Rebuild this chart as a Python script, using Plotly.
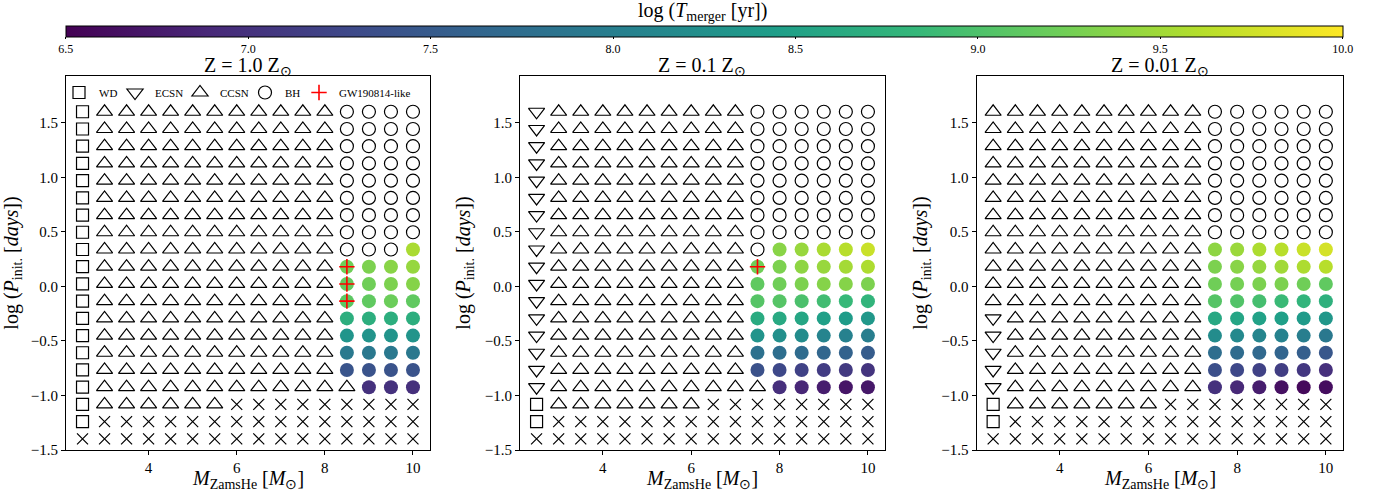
import plotly.graph_objects as go

# ---------------- data ----------------
M_ZAMS_HE = [2.5, 3.0, 3.5, 4.0, 4.5, 5.0, 5.5, 6.0, 6.5, 7.0, 7.5, 8.0, 8.5, 9.0, 9.5, 10.0]
# log10 initial period, listed top row to bottom row
LOG_P_INIT = [1.602, 1.444, 1.286, 1.128, 0.970, 0.812, 0.654, 0.497, 0.339, 0.181,
              0.023, -0.135, -0.293, -0.451, -0.608, -0.766, -0.924, -1.082, -1.240, -1.398]

PANEL_TITLES = ["Z = 1.0 Z<sub>⊙</sub>", "Z = 0.1 Z<sub>⊙</sub>", "Z = 0.01 Z<sub>⊙</sub>"]
X_TITLE = "<i>M</i><sub>ZamsHe</sub> [<i>M</i><sub>⊙</sub>]"
Y_TITLE = "log (<i>P</i><sub>init.</sub> [<i>days</i>])"
CB_TITLE = "log (<i>T</i><sub>merger</sub> [yr])"

# outcome codes: W=WD, E=ECSN, C=CCSN, B=BH, X=failed/no run, M=merging BH (coloured), G=merging + GW190814-like
GRID_Z1 = [
    "WCCCCCCCCCCCBBBB", "WCCCCCCCCCCCBBBB", "WCCCCCCCCCCCBBBB", "WCCCCCCCCCCCBBBB",
    "WCCCCCCCCCCCBBBB", "WCCCCCCCCCCCBBBB", "WCCCCCCCCCCCBBBB", "WCCCCCCCCCCCBBBB",
    "WCCCCCCCCCCCBBBM", "WCCCCCCCCCCCGMMM", "WCCCCCCCCCCCGMMM", "WCCCCCCCCCCCGMMM",
    "WCCCCCCCCCCCMMMM", "WCCCCCCCCCCCMMMM", "WCCCCCCCCCCCMMMM", "WCCCCCCCCCCCMMMM",
    "WCCCCCCCCCCCCMMM", "WCCCCCCXXXXXXXXX", "WXXXXXXXXXXXXXXX", "XXXXXXXXXXXXXXXX",
]
TMERGE_Z1 = [
    [], [], [], [], [], [], [], [],
    [9.55],
    [9.23, 9.30, 9.37, 9.44],
    [9.15, 9.23, 9.30, 9.35],
    [9.10, 9.13, 9.20, 9.13],
    [8.70, 8.70, 8.70, 8.70],
    [8.32, 8.30, 8.30, 8.30],
    [7.92, 7.90, 7.90, 7.90],
    [7.42, 7.40, 7.40, 7.40],
    [7.00, 7.00, 6.98],
    [], [], [],
]

GRID_Z01 = [
    "ECCCCCCCCCBBBBBB", "ECCCCCCCCCBBBBBB", "ECCCCCCCCCBBBBBB", "ECCCCCCCCCBBBBBB",
    "ECCCCCCCCCBBBBBB", "ECCCCCCCCCBBBBBB", "ECCCCCCCCCBBBBBB", "ECCCCCCCCCBBBBBB",
    "ECCCCCCCCCBMMMMM", "ECCCCCCCCCGMMMMM", "ECCCCCCCCCMMMMMM", "ECCCCCCCCCMMMMMM",
    "ECCCCCCCCCMMMMMM", "ECCCCCCCCCMMMMMM", "ECCCCCCCCCMMMMMM", "ECCCCCCCCCMMMMMM",
    "ECCCCCCCCCCMMMMM", "WCCCCCCCXXXXXXXX", "WXXXXXXXXXXXXXXX", "XXXXXXXXXXXXXXXX",
]
TMERGE_Z01 = [
    [], [], [], [], [], [], [], [],
    [9.37, 9.45, 9.55, 9.62, 9.72],
    [9.23, 9.30, 9.40, 9.45, 9.52, 9.57],
    [9.13, 9.23, 9.30, 9.35, 9.35, 9.30],
    [9.06, 9.06, 8.99, 8.92, 8.85, 8.78],
    [8.64, 8.62, 8.57, 8.48, 8.42, 8.36],
    [8.30, 8.25, 8.20, 8.08, 8.04, 8.00],
    [7.80, 7.76, 7.73, 7.65, 7.60, 7.52],
    [7.38, 7.27, 7.20, 7.13, 7.10, 7.03],
    [6.97, 6.88, 6.78, 6.70, 6.73],
    [], [], [],
]

GRID_Z001 = [
    "CCCCCCCCCCBBBBBB", "CCCCCCCCCCBBBBBB", "CCCCCCCCCCBBBBBB", "CCCCCCCCCCBBBBBB",
    "CCCCCCCCCCBBBBBB", "CCCCCCCCCCBBBBBB", "CCCCCCCCCCBBBBBB", "CCCCCCCCCCBBBBBB",
    "CCCCCCCCCCMMMMMM", "CCCCCCCCCCMMMMMM", "CCCCCCCCCCMMMMMM", "CCCCCCCCCCMMMMMM",
    "ECCCCCCCCCMMMMMM", "ECCCCCCCCCMMMMMM", "ECCCCCCCCCMMMMMM", "ECCCCCCCCCMMMMMM",
    "ECCCCCCCCCMMMMMM", "WCCCCCCCXXXXXXXX", "WXXXXXXXXXXXXXXX", "XXXXXXXXXXXXXXXX",
]
TMERGE_Z001 = [
    [], [], [], [], [], [], [], [],
    [9.40, 9.47, 9.57, 9.63, 9.72, 9.78],
    [9.30, 9.37, 9.44, 9.50, 9.57, 9.62],
    [9.23, 9.26, 9.30, 9.30, 9.23, 9.13],
    [9.06, 9.03, 8.95, 8.87, 8.78, 8.73],
    [8.60, 8.55, 8.50, 8.47, 8.40, 8.35],
    [8.20, 8.15, 8.10, 8.05, 8.00, 7.90],
    [7.75, 7.73, 7.68, 7.63, 7.55, 7.45],
    [7.35, 7.27, 7.20, 7.15, 7.07, 6.98],
    [7.00, 6.90, 6.78, 6.65, 6.58, 6.62],
    [], [], [],
]

GRIDS = [GRID_Z1, GRID_Z01, GRID_Z001]
TMERGES = [TMERGE_Z1, TMERGE_Z01, TMERGE_Z001]

CB_TICKS = [6.5, 7.0, 7.5, 8.0, 8.5, 9.0, 9.5, 10.0]
X_TICKS = [4, 6, 8, 10]
Y_TICKS = [-1.5, -1.0, -0.5, 0.0, 0.5, 1.0, 1.5]

# ---------------- layout geometry ----------------
W, H = 1373, 498
X_DOMAINS = [(66 / W, 429.5 / W), (520 / W, 884.5 / W), (976.5 / W, 1342.5 / W)]
Y_DOMAIN = (1 - 450 / H, 1 - 76 / H)
CB_LEFT, CB_RIGHT = 66, 1342.5
LEGEND_X = {"WD": 59, "ECSN": 115, "CCSN": 180, "BH": 245, "GW190814-like": 299}
LEGEND_IDS = {"WD": "legend", "ECSN": "legend2", "CCSN": "legend3", "BH": "legend4", "GW190814-like": "legend5"}
FONT = "Liberation Serif"

fig = go.Figure()

def collect(panel, code):
    xs, ys = [], []
    for r, row in enumerate(GRIDS[panel]):
        for c, ch in enumerate(row):
            if ch in code:
                xs.append(M_ZAMS_HE[c])
                ys.append(LOG_P_INIT[r])
    return xs, ys

def collect_merge(panel):
    xs, ys, vs = [], [], []
    for r, row in enumerate(GRIDS[panel]):
        k = 0
        for c, ch in enumerate(row):
            if ch in "MG":
                xs.append(M_ZAMS_HE[c])
                ys.append(LOG_P_INIT[r])
                vs.append(TMERGES[panel][r][k])
                k += 1
    return xs, ys, vs

STYLES = [
    ("W", "WD", dict(symbol="square-open", size=12, color="black", line=dict(width=1.2, color="black"))),
    ("E", "ECSN", dict(symbol="triangle-down-open", size=14, color="black", line=dict(width=1.2, color="black"))),
    ("C", "CCSN", dict(symbol="triangle-up-open", size=14, color="black", line=dict(width=1.2, color="black"))),
    ("B", "BH", dict(symbol="circle-open", size=13, color="black", line=dict(width=1.2, color="black"))),
]

def ax(i, kind):
    return kind if i == 0 else f"{kind}{i + 1}"

# filled merging circles first (under the rest)
for p in range(3):
    xs, ys, vs = collect_merge(p)
    fig.add_trace(go.Scatter(
        x=xs, y=ys, mode="markers", showlegend=False,
        marker=dict(symbol="circle", size=14, color=vs, coloraxis="coloraxis", line=dict(width=0)),
        xaxis=ax(p, "x"), yaxis=ax(p, "y"),
    ))

for code, name, mk in STYLES:
    shown = False
    for p in range(3):
        xs, ys = collect(p, code)
        if not xs:
            continue
        fig.add_trace(go.Scatter(
            x=xs, y=ys, mode="markers", name=name, legendgroup=name,
            legend=LEGEND_IDS[name], showlegend=not shown, marker=mk,
            xaxis=ax(p, "x"), yaxis=ax(p, "y"),
        ))
        shown = True

for p in range(3):
    xs, ys = collect(p, "X")
    fig.add_trace(go.Scatter(
        x=xs, y=ys, mode="markers", showlegend=False,
        marker=dict(symbol="x-thin-open", size=11, color="black", line=dict(width=1.2, color="black")),
        xaxis=ax(p, "x"), yaxis=ax(p, "y"),
    ))

shown = False
for p in range(3):
    xs, ys = collect(p, "G")
    if not xs:
        continue
    fig.add_trace(go.Scatter(
        x=xs, y=ys, mode="markers", name="GW190814-like", legendgroup="gw",
        legend=LEGEND_IDS["GW190814-like"], showlegend=not shown,
        marker=dict(symbol="cross-thin-open", size=11, color="red", line=dict(width=1.6, color="red")),
        xaxis=ax(p, "x"), yaxis=ax(p, "y"),
    ))
    shown = True

axis_common = dict(
    showline=True, mirror=True, linecolor="black", linewidth=1,
    ticks="outside", ticklen=4, tickcolor="black", tickwidth=1,
    showgrid=False, zeroline=False, automargin=False,
    tickfont=dict(family=FONT, size=15, color="black"),
)

layout = dict(
    width=W, height=H,
    margin=dict(l=0, r=0, t=0, b=0, autoexpand=False),
    paper_bgcolor="white", plot_bgcolor="white",
    font=dict(family=FONT, color="black"),
    coloraxis=dict(
        colorscale="Viridis", cmin=6.5, cmax=10,
        colorbar=dict(
            orientation="h", x=(CB_LEFT + CB_RIGHT) / 2 / W, xanchor="center",
            len=(CB_RIGHT - CB_LEFT) / W, lenmode="fraction",
            y=1 - 26 / H, yanchor="top", thickness=11, xpad=0, ypad=0,
            outlinewidth=1, outlinecolor="black",
            tickvals=CB_TICKS, ticktext=[f"{v:.1f}" for v in CB_TICKS],
            ticks="outside", ticklen=2, tickcolor="black",
            tickfont=dict(family=FONT, size=12, color="black"),
        ),
    ),
    showlegend=True,
)

for name, lid in LEGEND_IDS.items():
    layout[lid] = dict(
        orientation="h", x=LEGEND_X[name] / W, xanchor="left", y=1 - 78 / H, yanchor="top",
        bgcolor="rgba(0,0,0,0)", font=dict(family=FONT, size=11, color="black"),
        itemwidth=30,
    )

for p in range(3):
    layout[ax(p, "xaxis")] = dict(
        axis_common, domain=list(X_DOMAINS[p]), range=[2.125, 10.375],
        tickvals=X_TICKS, anchor=ax(p, "y"),
    )
    layout[ax(p, "yaxis")] = dict(
        axis_common, domain=list(Y_DOMAIN), range=[-1.5, 1.93],
        tickvals=Y_TICKS, ticktext=[f"{v:.1f}".replace("-", "−") for v in Y_TICKS],
        anchor=ax(p, "x"),
        title=dict(text=Y_TITLE, font=dict(family=FONT, size=20, color="black"), standoff=8),
    )

fig.update_layout(**layout)

# colorbar title
fig.add_annotation(
    text=CB_TITLE, xref="paper", yref="paper",
    x=702 / W, y=1 - 12 / H, xanchor="center", yanchor="middle",
    showarrow=False, font=dict(family=FONT, size=20, color="black"),
)

for p in range(3):
    x0, x1 = X_DOMAINS[p]
    fig.add_annotation(
        text=PANEL_TITLES[p], xref="paper", yref="paper",
        x=(x0 + x1) / 2, y=Y_DOMAIN[1] - 4 / H, xanchor="center", yanchor="bottom",
        showarrow=False, font=dict(family=FONT, size=20, color="black"), borderpad=0,
    )
    fig.add_annotation(
        text=X_TITLE, xref="paper", yref="paper",
        x=(x0 + x1) / 2, y=1 - 479 / H, xanchor="center", yanchor="middle",
        showarrow=False, font=dict(family=FONT, size=20, color="black"),
    )

fig.write_html("out.html")
